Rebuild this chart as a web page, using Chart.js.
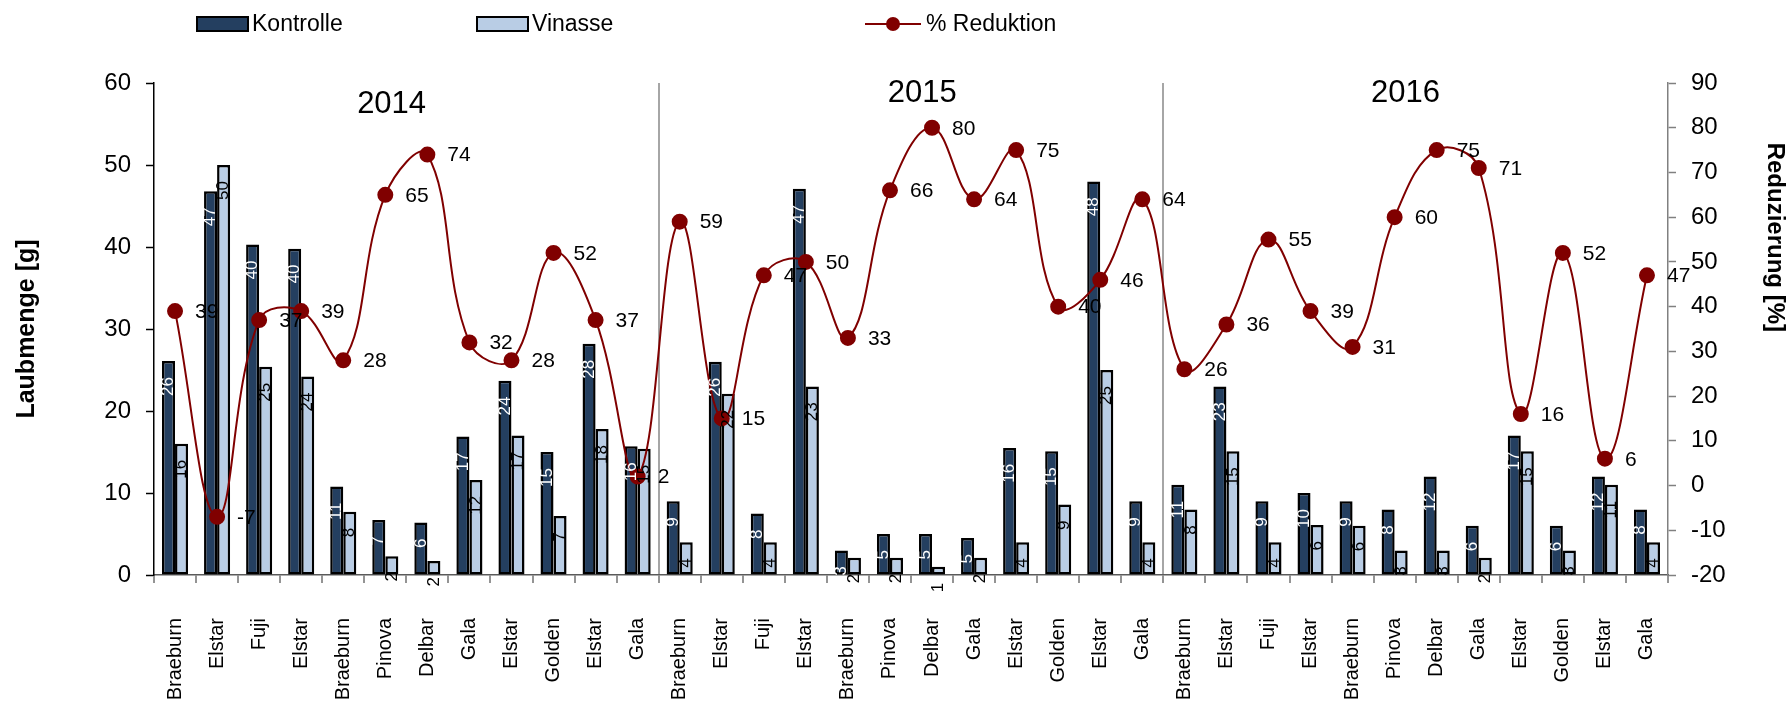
<!DOCTYPE html>
<html>
<head>
<meta charset="utf-8">
<title>Laubmenge und Reduktion</title>
<script src="https://cdn.jsdelivr.net/npm/chart.js@4.4.0/dist/chart.umd.min.js"></script>
<style>
    html, body { margin: 0; padding: 0; background: #fff; }
    #wrap { position: relative; width: 1790px; height: 707px; }
    #legend .item {
        position: absolute;
        top: 10px;
        display: flex;
        align-items: center;
        font: 23px "Liberation Sans", Arial, sans-serif;
        color: #000;
        white-space: nowrap;
    }
    #legend .box { width: 53px; height: 16px; border: 2.5px solid #000; box-sizing: border-box; margin-right: 3px; }
    #legend .lineSwatch { position: relative; width: 56px; height: 16px; margin-right: 5px; }
    #legend .lineSwatch .bar { position: absolute; left: 0; right: 0; top: 7px; height: 2px; }
    #legend .lineSwatch .dot { position: absolute; left: 21px; top: 1px; width: 14px; height: 14px; border-radius: 50%; }
</style>
</head>
<body>
<div id="wrap">
    <canvas id="chart"></canvas>
    <div id="legend"></div>
</div>
<script>
// categories (12 per year: 2014, 2015, 2016)
const sorten = [
    'Braeburn', 'Elstar', 'Fuji', 'Elstar', 'Braeburn', 'Pinova', 'Delbar', 'Gala', 'Elstar', 'Golden', 'Elstar', 'Gala',
    'Braeburn', 'Elstar', 'Fuji', 'Elstar', 'Braeburn', 'Pinova', 'Delbar', 'Gala', 'Elstar', 'Golden', 'Elstar', 'Gala',
    'Braeburn', 'Elstar', 'Fuji', 'Elstar', 'Braeburn', 'Pinova', 'Delbar', 'Gala', 'Elstar', 'Golden', 'Elstar', 'Gala'
]
const jahre = ['2014', '2015', '2016']

// Laubmenge [g]
const kontrolle = [
    26.1, 46.8, 40.3, 39.8, 10.8, 6.7, 6.4, 16.9, 23.7, 15.0, 28.2, 15.7,
    9.0, 26.0, 7.5, 47.1, 3.0, 5.0, 5.0, 4.5, 15.5, 15.1, 48.0, 9.0,
    11.0, 23.0, 9.0, 10.0, 9.0, 8.0, 12.0, 6.0, 17.0, 6.0, 12.0, 8.0
]
const vinasse = [
    16.0, 50.0, 25.4, 24.2, 7.7, 2.3, 1.7, 11.6, 17.0, 7.2, 17.8, 15.4,
    4.0, 22.1, 4.0, 23.0, 2.1, 2.1, 1.0, 2.1, 4.0, 8.6, 25.0, 4.0,
    8.0, 15.1, 4.0, 6.1, 6.0, 3.0, 3.0, 2.1, 15.1, 3.0, 11.0, 4.0
]

// % Reduktion
const reduktion = [
    39, -7, 37, 39, 28, 65, 74, 32, 28, 52, 37, 2,
    59, 15, 47, 50, 33, 66, 80, 64, 75, 40, 46, 64,
    26, 36, 55, 39, 31, 60, 75, 71, 16, 52, 6, 47
]

const leftTicks = [0, 60, 10]
const rightTicks = [-20, 90, 10]

const FONT = '"Liberation Sans", Arial, sans-serif'
Chart.defaults.font.family = FONT
Chart.defaults.color = '#000'

// where the year headings sit (category index, left-axis value)
const headingAnchor = [[5.15, 57.4], [17.77, 58.7], [29.26, 58.7]]

// labels in the bars, labels next to the points, year headings, right axis title
const labelPlugin = {
    id: 'valueLabels',
    afterDatasetsDraw(chart) {
        const ctx = chart.ctx
        ctx.save()

        // bar values, rotated, at the inner end of the bar
        chart.data.datasets.forEach((ds, di) => {
            if (ds.type !== 'bar') return
            const meta = chart.getDatasetMeta(di)
            ctx.font = '17px ' + FONT
            ctx.fillStyle = ds.labelColor
            ctx.textAlign = 'right'
            ctx.textBaseline = 'middle'
            meta.data.forEach((bar, i) => {
                ctx.save()
                ctx.translate(bar.x, bar.y + 16)
                ctx.rotate(-Math.PI / 2)
                ctx.fillText(String(Math.round(ds.data[i])), 0, 0)
                ctx.restore()
            })
        })

        // line values, right of the points
        chart.data.datasets.forEach((ds, di) => {
            if (ds.type !== 'line') return
            const meta = chart.getDatasetMeta(di)
            ctx.font = '21px ' + FONT
            ctx.fillStyle = '#000'
            ctx.textAlign = 'left'
            ctx.textBaseline = 'middle'
            meta.data.forEach((pt, i) => {
                ctx.fillText(String(ds.data[i]), pt.x + 20, pt.y + 1)
            })
        })

        // year headings
        const xs = chart.scales.x
        const ys = chart.scales.y
        ctx.font = '31px ' + FONT
        ctx.textAlign = 'center'
        ctx.textBaseline = 'middle'
        jahre.forEach((j, k) => {
            ctx.fillText(j, xs.getPixelForValue(headingAnchor[k][0]), ys.getPixelForValue(headingAnchor[k][1]))
        })

        // right axis title, sits higher than centre in the original
        const y1 = chart.scales.y1
        ctx.font = 'bold 24px ' + FONT
        ctx.translate(y1.right - 15, y1.getPixelForValue(55.5))
        ctx.rotate(Math.PI / 2)
        ctx.fillText('Reduzierung [%]', 0, 0)
        ctx.restore()
    }
}

const data = {
    labels: sorten,
    datasets: [
        {
            type: 'line',
            label: '% Reduktion',
            data: reduktion,
            yAxisID: 'y1',
            borderColor: '#800000',
            backgroundColor: '#800000',
            borderWidth: 2,
            tension: 0.4,
            pointRadius: 7,
            pointHoverRadius: 7,
            pointBackgroundColor: '#800000',
            pointBorderColor: '#800000',
            order: 0
        },
        {
            type: 'bar',
            label: 'Kontrolle',
            data: kontrolle,
            yAxisID: 'y',
            backgroundColor: '#243f60',
            borderColor: '#000',
            borderWidth: 2.5,
            borderSkipped: false,
            labelColor: '#fff',
            categoryPercentage: 0.62,
            barPercentage: 1.0,
            order: 1
        },
        {
            type: 'bar',
            label: 'Vinasse',
            data: vinasse,
            yAxisID: 'y',
            backgroundColor: '#B9CDE5',
            borderColor: '#000',
            borderWidth: 2.5,
            borderSkipped: false,
            labelColor: '#000',
            categoryPercentage: 0.62,
            barPercentage: 1.0,
            order: 1
        }
    ]
}

const options = {
    responsive: true,
    maintainAspectRatio: false,
    animation: false,
    layout: { padding: { top: 83, left: 0, right: 0, bottom: 0 } },
    plugins: {
        legend: { display: false },
        tooltip: { enabled: false }
    },
    scales: {
        x: {
            offset: true,
            afterFit: s => { s.height = 132 },
            border: { color: '#5a5a5a', width: 1.5 },
            grid: {
                offset: true,
                drawOnChartArea: true,
                // only the year separators are drawn on the chart area
                color: c => (c.index === 12 || c.index === 24) ? '#a6a6a6' : 'rgba(0,0,0,0)',
                lineWidth: 2,
                tickColor: '#707070',
                tickWidth: 1.5,
                tickLength: 8
            },
            ticks: {
                autoSkip: false,
                minRotation: 90,
                maxRotation: 90,
                padding: 35,
                font: { size: 20 },
                color: '#000'
            }
        },
        y: {
            position: 'left',
            min: leftTicks[0],
            max: leftTicks[1],
            afterFit: s => { s.width = 154 },
            border: { color: '#000', width: 1.5 },
            grid: { drawOnChartArea: false, tickColor: '#000', tickLength: 8, tickWidth: 1.5 },
            ticks: { stepSize: leftTicks[2], padding: 15, font: { size: 24 }, color: '#000' },
            title: {
                display: true,
                text: 'Laubmenge [g]',
                font: { size: 25, weight: 'bold' },
                color: '#000',
                padding: { top: 12, bottom: 0 }
            }
        },
        y1: {
            position: 'right',
            min: rightTicks[0],
            max: rightTicks[1],
            afterFit: s => { s.width = 122 },
            border: { color: '#808080', width: 1.5 },
            grid: { drawOnChartArea: false, tickColor: '#808080', tickLength: 8, tickWidth: 1.5 },
            ticks: { stepSize: rightTicks[2], padding: 15, font: { size: 24 }, color: '#000' },
            title: { display: false }
        }
    }
}

const chart = new Chart(document.getElementById('chart'), {
    data: data,
    options: options,
    plugins: [labelPlugin]
})

// html legend, same order as the original: Kontrolle, Vinasse, % Reduktion
const legendLeft = { 'Kontrolle': 196, 'Vinasse': 476, '% Reduktion': 865 }
const legend = document.getElementById('legend')
;['Kontrolle', 'Vinasse', '% Reduktion'].forEach(name => {
    const ds = chart.data.datasets.find(d => d.label === name)
    const item = document.createElement('div')
    item.className = 'item'
    item.style.left = legendLeft[name] + 'px'
    if (ds.type === 'bar') {
        const box = document.createElement('div')
        box.className = 'box'
        box.style.background = ds.backgroundColor
        item.appendChild(box)
    } else {
        const sw = document.createElement('div')
        sw.className = 'lineSwatch'
        sw.innerHTML = '<div class="bar"></div><div class="dot"></div>'
        sw.querySelector('.bar').style.background = ds.borderColor
        sw.querySelector('.dot').style.background = ds.pointBackgroundColor
        item.appendChild(sw)
    }
    const txt = document.createElement('span')
    txt.textContent = ds.label
    item.appendChild(txt)
    legend.appendChild(item)
})
</script>
</body>
</html>
